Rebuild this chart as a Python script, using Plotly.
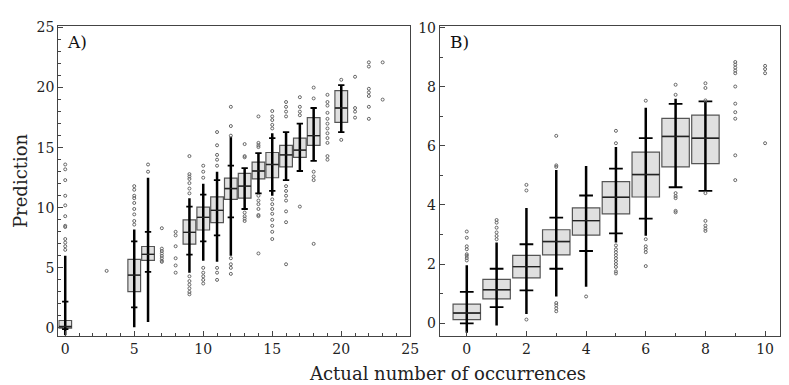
import plotly.graph_objects as go

# ---------------- Panel A data ----------------
A_cats = [0, 5, 6, 9, 10, 11, 12, 13, 14, 15, 16, 17, 18, 20]
A_q1 = [-0.02, 3.03, 5.63, 6.97, 8.15, 8.77, 10.7, 10.8, 12.4, 12.5, 13.4, 14.2, 15.2, 17.1]
A_med = [0.12, 4.4, 6.12, 7.95, 9.2, 9.78, 11.6, 11.8, 13.06, 13.6, 14.4, 14.8, 16.0, 18.3]
A_q3 = [0.62, 5.7, 6.78, 9.0, 10.05, 10.9, 12.46, 12.87, 13.8, 14.6, 15.2, 15.8, 17.5, 19.75]
A_lo = [-0.1, 1.72, 4.67, 6.1, 7.2, 7.7, 9.2, 9.9, 11.2, 11.4, 12.3, 13.06, 13.9, 16.3]
A_hi = [2.2, 7.2, 8.0, 10.1, 11.1, 12.3, 13.5, 13.3, 14.55, 15.8, 16.3, 17.0, 18.3, 20.2]
A_dense_lo = [-0.6, 0.05, 0.5, 4.6, 5.6, 5.5, 6.0, 9.9, 11.2, 11.0, 12.3, 13.06, 13.9, 16.3]
A_dense_hi = [6.0, 8.2, 12.5, 10.8, 12.0, 13.0, 15.9, 13.3, 14.55, 16.2, 16.3, 17.0, 18.3, 20.2]
A_sparse = {
    0: [6.5, 6.8, 7.1, 7.4, 8.4, 8.5, 9.3, 10.2, 11.0, 12.3, 13.2, 13.6],
    3: [4.75],
    5: [8.6, 8.9, 9.45, 9.9, 10.4, 10.8, 11.0, 11.5, 11.8],
    6: [13.0, 13.6],
    7: [5.5, 5.6, 5.8, 6.0, 6.2, 6.4, 6.6, 8.3],
    8: [4.6, 5.2, 5.8, 6.8, 7.7, 8.0],
    9: [2.8, 3.0, 3.3, 3.6, 3.9, 4.3, 11.2, 11.6, 12.05, 12.4, 12.6, 12.8, 14.3],
    10: [3.7, 4.0, 4.3, 4.6, 5.0, 12.5, 13.0, 13.5],
    11: [4.0, 4.6, 5.0, 13.5, 14.0, 14.4, 15.2, 16.3],
    12: [4.5, 5.0, 5.3, 5.8, 16.0, 16.8, 18.4],
    13: [8.9, 9.1, 9.3, 9.6, 14.2, 14.3, 15.3],
    14: [6.2, 9.3, 9.4, 9.9, 10.3, 10.6, 11.0, 15.05, 15.2, 15.4, 17.6],
    15: [7.4, 8.0, 8.5, 9.0, 9.5, 9.9, 10.3, 10.7, 16.6, 16.9, 17.3, 17.6, 18.05],
    16: [5.3, 8.8, 9.7, 10.6, 11.0, 11.4, 11.8, 17.6, 18.0, 18.4, 18.8],
    17: [10.1, 17.7, 18.0, 18.4, 19.2],
    18: [7.0, 12.3, 12.6, 13.0, 19.1, 20.0],
    19: [14.0, 14.3, 15.4, 15.8, 16.2, 16.6, 17.0, 17.4, 17.9, 18.5, 18.8, 19.4],
    20: [15.65, 20.65],
    21: [17.5, 18.0, 18.3, 20.9],
    22: [17.4, 18.4, 19.3, 19.6, 19.9, 21.75, 22.1],
    23: [19.0, 22.1],
}

# ---------------- Panel B data ----------------
B_cats = [0, 1, 2, 3, 4, 5, 6, 7, 8]
B_q1 = [0.12, 0.82, 1.53, 2.31, 2.98, 3.7, 4.27, 5.29, 5.4]
B_med = [0.34, 1.13, 1.91, 2.76, 3.47, 4.26, 5.03, 6.32, 6.26]
B_q3 = [0.64, 1.48, 2.29, 3.16, 3.9, 4.79, 5.79, 6.93, 7.04]
B_lo = [-0.01, 0.54, 1.11, 1.84, 2.44, 3.04, 3.54, 4.6, 4.48]
B_hi = [1.06, 1.84, 2.67, 3.57, 4.32, 5.23, 6.26, 7.42, 7.51]
B_dense_lo = [-0.33, -0.08, 0.31, 0.9, 1.23, 2.73, 2.96, 4.6, 4.48]
B_dense_hi = [1.96, 2.73, 3.9, 5.18, 5.32, 5.96, 7.29, 7.6, 7.51]
B_sparse = {
    0: [2.12, 2.2, 2.28, 2.33, 2.5, 2.6, 2.89, 3.1],
    1: [2.84, 2.95, 3.07, 3.23, 3.4, 3.49],
    2: [0.12, 4.49, 4.68],
    3: [0.4, 0.5, 0.6, 0.68, 5.29, 5.34, 6.34],
    4: [0.9],
    5: [1.68, 1.75, 1.9, 2.0, 2.1, 2.2, 2.3, 2.4, 2.5, 2.63, 6.09, 6.51],
    6: [1.93, 2.4, 2.5, 2.6, 2.84, 7.53],
    7: [3.75, 3.8, 4.23, 4.3, 4.4, 7.73, 8.07],
    8: [3.12, 3.2, 3.3, 3.46, 4.4, 7.54, 7.96, 8.12],
    9: [4.84, 5.68, 6.92, 7.14, 7.43, 8.01, 8.46, 8.55, 8.65, 8.75, 8.84],
    10: [6.09, 8.46, 8.6, 8.71],
}

FONT = "DejaVu Serif"
BOX_W = 0.92
CAP_HALF = 0.23

fig = go.Figure()


def add_panel(cats, q1, med, q3, lo, hi, dlo, dhi, sparse, xa, ya):
    fig.add_trace(go.Box(
        x=cats, q1=q1, median=med, q3=q3, lowerfence=lo, upperfence=hi,
        boxpoints=False, width=BOX_W, whiskerwidth=0,
        fillcolor="#e0e0e0", line=dict(color="#555555", width=1.2),
        xaxis=xa, yaxis=ya, showlegend=False, hoverinfo="skip"))
    # dense point columns
    cx, cy = [], []
    for c, a, b in zip(cats, dlo, dhi):
        cx += [c, c, None]
        cy += [a, b, None]
    fig.add_trace(go.Scatter(x=cx, y=cy, mode="lines",
                             line=dict(color="#000000", width=2.5),
                             xaxis=xa, yaxis=ya, showlegend=False, hoverinfo="skip"))
    # caps
    kx, ky = [], []
    for c, a, b in zip(cats, lo, hi):
        for v in (a, b):
            kx += [c - CAP_HALF, c + CAP_HALF, None]
            ky += [v, v, None]
    fig.add_trace(go.Scatter(x=kx, y=ky, mode="lines",
                             line=dict(color="#000000", width=1.8),
                             xaxis=xa, yaxis=ya, showlegend=False, hoverinfo="skip"))
    # median lines drawn again on top (dark)
    mx, my = [], []
    for c, m in zip(cats, med):
        mx += [c - BOX_W / 2, c + BOX_W / 2, None]
        my += [m, m, None]
    fig.add_trace(go.Scatter(x=mx, y=my, mode="lines",
                             line=dict(color="#222222", width=1.4),
                             xaxis=xa, yaxis=ya, showlegend=False, hoverinfo="skip"))
    # sparse points
    px, py = [], []
    for c, vals in sparse.items():
        for v in vals:
            px.append(c)
            py.append(v)
    fig.add_trace(go.Scatter(x=px, y=py, mode="markers",
                             marker=dict(symbol="circle-open", size=3,
                                         color="#666666", line=dict(width=1)),
                             xaxis=xa, yaxis=ya, showlegend=False, hoverinfo="skip"))


add_panel(A_cats, A_q1, A_med, A_q3, A_lo, A_hi, A_dense_lo, A_dense_hi, A_sparse, "x", "y")
add_panel(B_cats, B_q1, B_med, B_q3, B_lo, B_hi, B_dense_lo, B_dense_hi, B_sparse, "x2", "y2")

W, H = 789, 385
ydom = [(H - 335) / H, (H - 20) / H]

axis_common = dict(showgrid=False, zeroline=False, showline=True, linecolor="#444444",
                   linewidth=1.3, mirror=True, ticks="inside", ticklen=5, tickcolor="#444444",
                   tickfont=dict(family=FONT, size=14, color="#222222"))

fig.update_layout(
    width=W, height=H, margin=dict(l=0, r=0, t=0, b=0),
    paper_bgcolor="white", plot_bgcolor="white",
    xaxis=dict(domain=[59 / W, 415 / W], range=[-0.5, 25], dtick=5, tick0=0,
               minor=dict(ticks="inside", ticklen=3, dtick=1, tickcolor="#444444"),
               anchor="y", **axis_common),
    yaxis=dict(domain=ydom, range=[-0.65, 25.15], dtick=5, tick0=0,
               minor=dict(ticks="inside", ticklen=3, dtick=1, tickcolor="#444444"),
               anchor="x", **axis_common),
    xaxis2=dict(domain=[445 / W, 1.0], range=[-0.9, 10.5], dtick=2, tick0=0,
                minor=dict(ticks="inside", ticklen=3, dtick=1, tickcolor="#444444"),
                anchor="y2", **axis_common),
    yaxis2=dict(domain=ydom, range=[-0.43, 10.07], dtick=2, tick0=0,
                minor=dict(ticks="inside", ticklen=3, dtick=1, tickcolor="#444444"),
                anchor="x2", **axis_common),
    annotations=[
        dict(text="A)", xref="x domain", yref="y domain", x=0.02, y=0.985,
             xanchor="left", yanchor="top", showarrow=False,
             font=dict(family=FONT, size=17, color="#111111")),
        dict(text="B)", xref="x2 domain", yref="y2 domain", x=0.025, y=0.985,
             xanchor="left", yanchor="top", showarrow=False,
             font=dict(family=FONT, size=17, color="#111111")),
        dict(text="Actual number of occurrences", xref="paper", yref="paper",
             x=453 / W, y=(H - 373) / H, xanchor="center", yanchor="middle",
             showarrow=False, font=dict(family=FONT, size=18, color="#222222")),
        dict(text="Prediction", xref="paper", yref="paper", textangle=-90,
             x=20 / W, y=(H - 177) / H, xanchor="center", yanchor="middle",
             showarrow=False, font=dict(family=FONT, size=18, color="#222222")),
    ],
)

fig.write_html("out.html")
